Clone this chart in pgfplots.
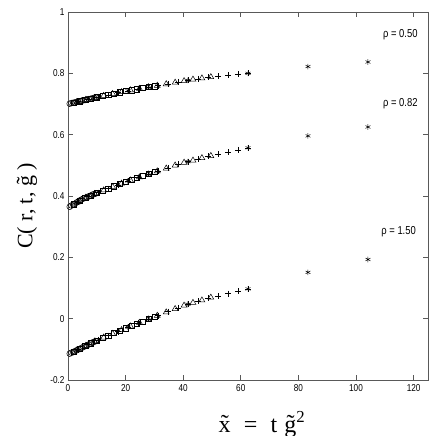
\documentclass[border=0pt]{standalone}
\usepackage{fontspec}
\setmainfont{Liberation Serif}
\newfontfamily\arialn[FakeStretch=0.82]{Liberation Sans}
\usepackage{pgfplots}
\pgfplotsset{compat=1.18}
\usepackage{pgfplotstable}

% x, rho=0.50, rho=0.82, rho=1.50
\pgfplotstableread{
x    a     b     c
0.6  0.701 0.365 -0.114
1.2  0.703 0.369 -0.111
1.8  0.704 0.372 -0.109
2.4  0.705 0.375 -0.106
3.0  0.707 0.379 -0.103
3.6  0.708 0.382 -0.100
4.2  0.709 0.386 -0.098
4.8  0.711 0.389 -0.095
5.4  0.712 0.392 -0.092
6.0  0.713 0.394 -0.089
6.6  0.715 0.396 -0.087
7.2  0.716 0.399 -0.084
7.8  0.717 0.401 -0.081
8.4  0.718 0.404 -0.078
9.0  0.720 0.406 -0.076
9.6  0.721 0.408 -0.073
}\circles

\pgfplotstableread{
x    a     b     c
2    0.704 0.373 -0.108
4    0.709 0.384 -0.099
6    0.713 0.394 -0.089
8    0.718 0.402 -0.080
10   0.722 0.410 -0.071
12   0.726 0.417 -0.063
14   0.730 0.424 -0.055
16   0.734 0.432 -0.047
18   0.738 0.439 -0.039
20   0.742 0.446 -0.031
22   0.745 0.452 -0.024
24   0.748 0.459 -0.016
26   0.752 0.465 -0.009
28   0.755 0.472 -0.001
30   0.758 0.478  0.006
}\squares

\pgfplotstableread{
x    a     b     c
3.1  0.707 0.379 -0.103
6.2  0.714 0.395 -0.088
9.3  0.720 0.407 -0.074
12.4 0.727 0.419 -0.061
15.5 0.733 0.430 -0.049
18.6 0.739 0.441 -0.037
21.7 0.745 0.451 -0.025
24.8 0.750 0.461 -0.013
27.9 0.755 0.471 -0.002
31.0 0.760 0.481  0.010
34.1 0.765 0.490  0.021
37.2 0.770 0.500  0.032
40.3 0.775 0.509  0.043
43.4 0.780 0.516  0.052
46.5 0.784 0.524  0.060
49.6 0.788 0.531  0.069
}\triangles

\pgfplotstableread{
x     a     b     c
3.47  0.708 0.381 -0.101
6.94  0.715 0.398 -0.085
10.41 0.723 0.411 -0.069
13.88 0.730 0.424 -0.055
17.35 0.737 0.436 -0.042
20.82 0.743 0.449 -0.028
24.29 0.749 0.460 -0.015
27.76 0.754 0.471 -0.002
31.23 0.760 0.482  0.010
34.70 0.766 0.492  0.023
38.17 0.772 0.503  0.035
41.64 0.777 0.512  0.047
45.11 0.782 0.520  0.056
48.58 0.787 0.529  0.066
52.05 0.791 0.536  0.074
55.52 0.794 0.543  0.082
58.99 0.797 0.550  0.089
62.46 0.800 0.557  0.097
}\pluses

\pgfplotstableread{
x      a     b     c
20.83  0.743 0.449 -0.028
41.66  0.777 0.512  0.047
62.50  0.800 0.557  0.097
83.33  0.822 0.596  0.151
104.16 0.837 0.625  0.193
}\stars

\begin{document}
\begin{tikzpicture}
\begin{axis}[
    at={(0,0)}, anchor=south west,
    scale only axis,
    width=360pt, height=368pt,
    xmin=0, xmax=125, ymin=-0.2, ymax=1,
    xtick={0,20,40,60,80,100,120},
    ytick={-0.2,0,0.2,0.4,0.6,0.8,1},
    tick align=inside,
    major tick length=5pt,
    axis line style={draw=black!65, line width=0.9pt},
    tick style={draw=black!65, line width=0.7pt},
    /pgf/number format/assume math mode=true,
    xticklabel style={font=\arialn\fontsize{10}{12}\selectfont, yshift=-1pt},
    yticklabel style={font=\arialn\fontsize{10}{12}\selectfont},
    every axis plot/.append style={only marks, draw=black, line width=0.5pt},
]
\foreach \col in {a,b,c} {
  \addplot[mark=o, mark size=2.9pt] table[x=x, y=\col] {\circles};
  \addplot[mark=square, mark size=2.6pt] table[x=x, y=\col] {\squares};
  \addplot[mark=triangle, mark size=3.4pt] table[x=x, y=\col] {\triangles};
  \addplot[mark=+, mark size=3.0pt] table[x=x, y=\col] {\pluses};
  \addplot[mark=asterisk, mark size=2.8pt] table[x=x, y=\col] {\stars};
}
\node[font=\arialn\fontsize{11.5}{12}\selectfont] at (axis cs:115.4,0.926) {ρ = 0.50};
\node[font=\arialn\fontsize{11.5}{12}\selectfont] at (axis cs:115.4,0.700) {ρ = 0.82};
\node[font=\arialn\fontsize{11.5}{12}\selectfont] at (axis cs:114.8,0.283) {ρ = 1.50};
\end{axis}
\node[rotate=90, font=\fontsize{22}{22}\selectfont] at (-41pt,174pt) {C( r, t, \~{g} )};
\node[anchor=base, font=\fontsize{24}{24}\selectfont] at (194pt,-52pt) {\~{x}\hspace{0.55em}=\hspace{0.55em}t\hspace{0.3em}\~{g}\textsuperscript{2}};
\pgfresetboundingbox
\path (-68pt,-56pt) rectangle (368pt,380pt);
\end{tikzpicture}
\end{document}
